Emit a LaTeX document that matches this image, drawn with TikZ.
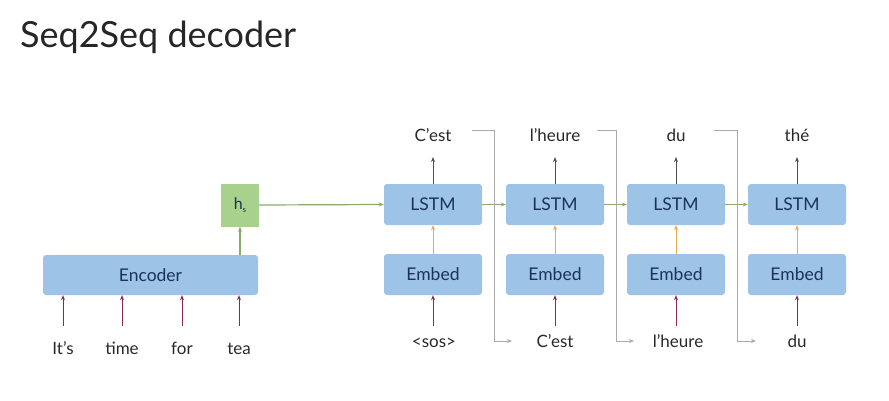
\documentclass[tikz,border=0pt]{standalone}
\usepackage{fontspec}
\setmainfont{Lato}
\usetikzlibrary{arrows.meta}
\definecolor{boxblue}{RGB}{157,195,230}
\definecolor{boxtext}{RGB}{28,50,88}
\definecolor{hsgreen}{RGB}{169,209,142}
\definecolor{linegreen}{RGB}{140,170,110}
\definecolor{inred}{RGB}{140,40,80}
\definecolor{embor}{RGB}{235,170,80}
\definecolor{outgray}{RGB}{80,80,80}
\definecolor{fbgray}{RGB}{170,170,170}
\definecolor{lbltext}{RGB}{40,40,40}
\tikzset{
  x=1pt,y=-1pt,
  blk/.style={fill=boxblue,rounded corners=3pt,text=boxtext,font=\fontsize{17.5}{19}\selectfont,inner sep=0pt},
  lstmbox/.style={blk,minimum width=98pt,minimum height=41pt},
  encbox/.style={blk,minimum width=215pt,minimum height=40pt},
  hsbox/.style={fill=hsgreen,text=boxtext,font=\fontsize{16}{18}\selectfont,minimum width=38pt,minimum height=43pt,inner sep=0pt},
  lbl/.style={text=lbltext,font=\fontsize{17}{19}\selectfont,inner sep=0pt},
  tip/.style={-{Stealth[length=5pt,width=4pt]}},
  inarr/.style={tip,draw=inred,line width=1pt},
  embarr/.style={tip,draw=embor,line width=1pt},
  outarr/.style={tip,draw=outgray,line width=1pt},
  recarr/.style={tip,draw=linegreen,line width=1.2pt},
  fbline/.style={tip,draw=fbgray,line width=0.9pt},
}
\begin{document}
\begin{tikzpicture}
\useasboundingbox (0,0) rectangle (889,400);
\node[anchor=base west,text=black!85,font=\fontsize{36}{40}\selectfont,inner sep=0pt] (title) at (20,47) {Seq2Seq decoder};
% encoder
\node[encbox] (enc) at (150.5,275) {Encoder};
\node[hsbox] (hs) at (240,205) {h\raisebox{-0.35ex}{\fontsize{8}{9}\selectfont s}};
\draw[recarr] (enc.north -| hs) -- (hs.south);
\foreach \i/\x/\w in {1/63/{It's},2/122/time,3/182/for,4/239/tea}{
  \node[lbl,anchor=base] (w\i) at (\x,354) {\w};
  \coordinate (wa\i) at (\x,326);
  \draw[inarr] (wa\i) -- (wa\i |- enc.south);
}
% decoder
\foreach \i/\x in {1/433,2/555,3/676,4/797}{
  \node[lstmbox] (l\i) at (\x,204.5) {LSTM};
  \node[lstmbox] (e\i) at (\x,274.5) {Embed};
  \draw[embarr] (e\i.north) -- (l\i.south);
  \coordinate (ia\i) at (\x,326);
  \draw[inarr] (ia\i) -- (e\i.south);
  \coordinate (oa\i) at (\x,157);
  \draw[outarr] (l\i.north) -- (oa\i);
}
\node[lbl,anchor=base] (o1) at (433,141) {C'est};
\node[lbl,anchor=base] (o2) at (555,141) {l'heure};
\node[lbl,anchor=base] (o3) at (676,141) {du};
\node[lbl,anchor=base] (o4) at (797,141) {th\'e};
\node[lbl,anchor=base] (n1) at (434,347) {<sos>};
\node[lbl,anchor=base] (n2) at (555,347) {C'est};
\node[lbl,anchor=base] (n3) at (678,347) {l'heure};
\node[lbl,anchor=base] (n4) at (797,347) {du};
% recurrent arrows
\draw[recarr] (hs.east) -- (l1.west);
\draw[recarr] (l1.east) -- (l2.west);
\draw[recarr] (l2.east) -- (l3.west);
\draw[recarr] (l3.east) -- (l4.west);
% feedback
\coordinate (fa1) at (472,130); \coordinate (fb1) at (494,130); \coordinate (fc1) at (494,341); \coordinate (fd1) at (512,341);
\coordinate (fa2) at (597,130); \coordinate (fb2) at (616,130); \coordinate (fc2) at (616,341); \coordinate (fd2) at (634,341);
\coordinate (fa3) at (714,130); \coordinate (fb3) at (737,130); \coordinate (fc3) at (737,341); \coordinate (fd3) at (756,341);
\foreach \i in {1,2,3}{
  \draw[fbline] (fa\i) -- (fb\i) -- (fc\i) -- (fd\i);
}
\end{tikzpicture}
\end{document}
